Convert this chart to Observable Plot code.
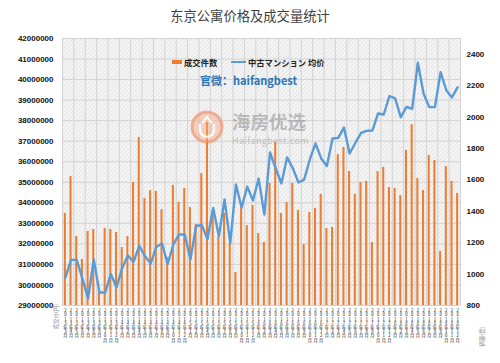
<!DOCTYPE html>
<html><head><meta charset="utf-8">
<script src="https://cdn.jsdelivr.net/npm/d3@7"></script>
<script src="https://cdn.jsdelivr.net/npm/@observablehq/plot@0.6"></script>
<style>
body{margin:0;background:#fff;}
#wrap{position:relative;width:500px;height:363px;font-family:"Liberation Sans",Arial,sans-serif;overflow:hidden;}
#wrap svg.chart{position:absolute;left:0;top:0;}
.ov{position:absolute;white-space:nowrap;font-family:"Noto Sans CJK SC","Liberation Sans",sans-serif;line-height:1;}
text.vlab{writing-mode:vertical-rl;text-orientation:upright;}
</style></head><body><div id="wrap"></div>
<script>
// ---- data ----
const startYear = 2013, startMonth = 3;
const monthLabels = d3.range(70).map(i => {
  const m = startMonth - 1 + i;
  return `${startYear + Math.floor(m / 12)}年${(m % 12) + 1}月`;
});
// 成交件数 (右轴, 套)
const counts = [1386,1621,1239,1093,1271,1284,896,1290,1284,1265,
 1169,1239,1583,1870,1481,1532,1526,1411,1106,1564,
 1456,1545,1424,1316,1640,1965,1386,1239,1386,1195,
 1010,1424,1309,1437,1258,1201,1577,1838,1386,1456,
 1577,1405,1188,1392,1418,1507,1290,1297,1761,1806,
 1653,1507,1583,1590,1201,1653,1679,1551,1545,1500,
 1787,1952,1609,1532,1755,1723,1144,1685,1590,1513];
// 中古マンション 均价 (左轴, 円)
const prices = [30360000,31220000,31220000,30310000,29340000,31240000,29630000,29630000,30530000,29880000,
 30830000,31430000,31120000,31900000,31410000,31040000,31850000,32020000,31020000,31970000,
 32460000,32460000,31240000,32870000,32920000,32240000,33750000,32380000,34160000,32040000,
 34890000,33770000,34790000,34110000,35180000,33430000,36450000,35670000,34940000,36210000,
 35690000,34990000,35130000,36110000,36890000,36160000,35790000,37130000,37160000,37670000,
 36400000,36910000,37400000,37500000,37520000,38350000,38300000,39200000,39080000,38170000,
 38670000,38580000,40820000,39320000,38660000,38660000,40360000,39480000,39130000,39630000];
const leftTicks = d3.range(29000000, 42000001, 1000000);
const rightTicks = d3.range(800, 2401, 200);
const leftDomain = [29000000, 42000000];
const rightDomain = [800, 2500];
const seriesNames = ["成交件数", "中古マンション 均价"];
const axisTitles = ["成交价(円)", "销量(套)"];
const titleText = "东京公寓价格及成交量统计";

const k = (leftDomain[1] - leftDomain[0]) / (rightDomain[1] - rightDomain[0]);
const toLeft = c => leftDomain[0] + (c - rightDomain[0]) * k;
const fromLeft = v => rightDomain[0] + (v - leftDomain[0]) / k;

const orange = "#ED7D31", blue = "#5B9BD5";

const chart = Plot.plot({
  width: 500, height: 363,
  marginLeft: 62, marginRight: 40, marginTop: 38, marginBottom: 58,
  x: {domain: [-0.5, counts.length - 0.5], axis: null},
  y: {domain: leftDomain, axis: null},
  style: {fontFamily: "Liberation Sans, Arial, sans-serif", fontSize: "8px", background: "transparent", color: "#111"},
  marks: [
    Plot.frame({fill: "url(#hatch)", stroke: null}),
    Plot.gridY(leftTicks, {stroke: "#d2d2d2", strokeOpacity: 1}),
    Plot.ruleX(d3.range(-0.5, counts.length, 2), {stroke: "#d2d2d2"}),
    Plot.rectY(counts, {x1: (d, i) => i - 0.18, x2: (d, i) => i + 0.18, y1: leftDomain[0], y2: d => toLeft(d), fill: orange}),
    Plot.line(prices, {x: (d, i) => i, y: d => d, stroke: blue, strokeWidth: 2.4, strokeLinejoin: "round"}),
    Plot.axisY(leftTicks, {anchor: "left", tickSize: 0, tickPadding: 9, tickFormat: d => String(d), fontSize: 8, fontWeight: "bold", fill: "#111"}),
    Plot.axisY(rightTicks.map(toLeft), {anchor: "right", tickSize: 0, tickPadding: 6, tickFormat: d => String(Math.round(fromLeft(d))), fontSize: 8, fontWeight: "bold", fill: "#111"}),
    Plot.text(monthLabels, {x: (d, i) => i, frameAnchor: "bottom", text: d => d, dy: 3, fontSize: 4.2, fill: "#111", fontFamily: "Noto Sans CJK SC"}),
    Plot.text([axisTitles[0]], {frameAnchor: "bottom-left", rotate: -90, dx: -5, dy: 24, fontSize: 5.5, fill: "#888", fontFamily: "Noto Sans CJK SC"}),
    Plot.text([axisTitles[1]], {frameAnchor: "bottom-right", rotate: -90, dx: 23, dy: 21, fontSize: 5.5, fill: "#888", fontFamily: "Noto Sans CJK SC"})
  ]
});
chart.classList.add("chart");
// vertical, upright stacked tick labels
const labelSet = new Set(monthLabels);
d3.select(chart).selectAll("text")
  .filter(function() { return labelSet.has(this.textContent); })
  .attr("y", null).attr("dy", null)
  .attr("class", "vlab")
  .attr("writing-mode", "vertical-rl")
  .attr("text-anchor", "start");
const defs = d3.select(chart).insert("defs", ":first-child");
const pat = defs.append("pattern").attr("id", "hatch").attr("width", 3).attr("height", 3)
  .attr("patternUnits", "userSpaceOnUse").attr("patternTransform", "rotate(45)");
pat.append("rect").attr("width", 3).attr("height", 3).attr("fill", "#f5f5f5");
pat.append("line").attr("x1", 0).attr("y1", 0).attr("x2", 0).attr("y2", 3).attr("stroke", "#d6d6d6").attr("stroke-width", 1);

const wrap = document.getElementById("wrap");
wrap.appendChild(chart);

function ov(text, css) {
  const d = document.createElement("div");
  d.className = "ov"; d.textContent = text; d.style.cssText += css;
  wrap.appendChild(d); return d;
}
// title
ov(titleText, "left:0;width:500px;text-align:center;top:9px;font-size:13.3px;color:#404040;");
// legend
const sw1 = document.createElement("div"); sw1.style.cssText = `position:absolute;left:172px;top:60px;width:10px;height:4px;background:${orange};`; wrap.appendChild(sw1);
ov(seriesNames[0], "left:184px;top:57.5px;font-size:8.3px;font-weight:bold;color:#222;");
const sw2 = document.createElement("div"); sw2.style.cssText = `position:absolute;left:231px;top:61px;width:15px;height:2px;background:${blue};`; wrap.appendChild(sw2);
ov(seriesNames[1], "left:248px;top:57.5px;font-size:8.3px;font-weight:bold;color:#222;");
// watermark
ov("官微：haifangbest", "left:200px;top:75px;font-size:11px;font-weight:bold;color:#2E75B6;");
ov("海房优选", "left:232px;top:112px;font-size:18.5px;font-weight:bold;color:rgba(140,140,140,0.55);");
ov("Haifangbest.com", "left:232px;top:136px;font-size:9px;color:rgba(150,150,150,0.55);letter-spacing:0.4px;");
const logo = document.createElementNS("http://www.w3.org/2000/svg", "svg");
logo.setAttribute("width", 40); logo.setAttribute("height", 40);
logo.style.cssText = "position:absolute;left:187px;top:107px;";
logo.innerHTML = `<circle cx="20" cy="20" r="15" fill="rgba(244,170,135,0.45)" stroke="rgba(238,140,100,0.6)" stroke-width="3"/>
<path d="M13 17 v6 a7 7 0 0 0 14 0 v-6" fill="none" stroke="rgba(255,255,255,0.85)" stroke-width="2.5"/>
<path d="M15 16 l5 -6 l5 6" fill="none" stroke="rgba(255,255,255,0.85)" stroke-width="2"/>`;
wrap.appendChild(logo);
</script></body></html>
